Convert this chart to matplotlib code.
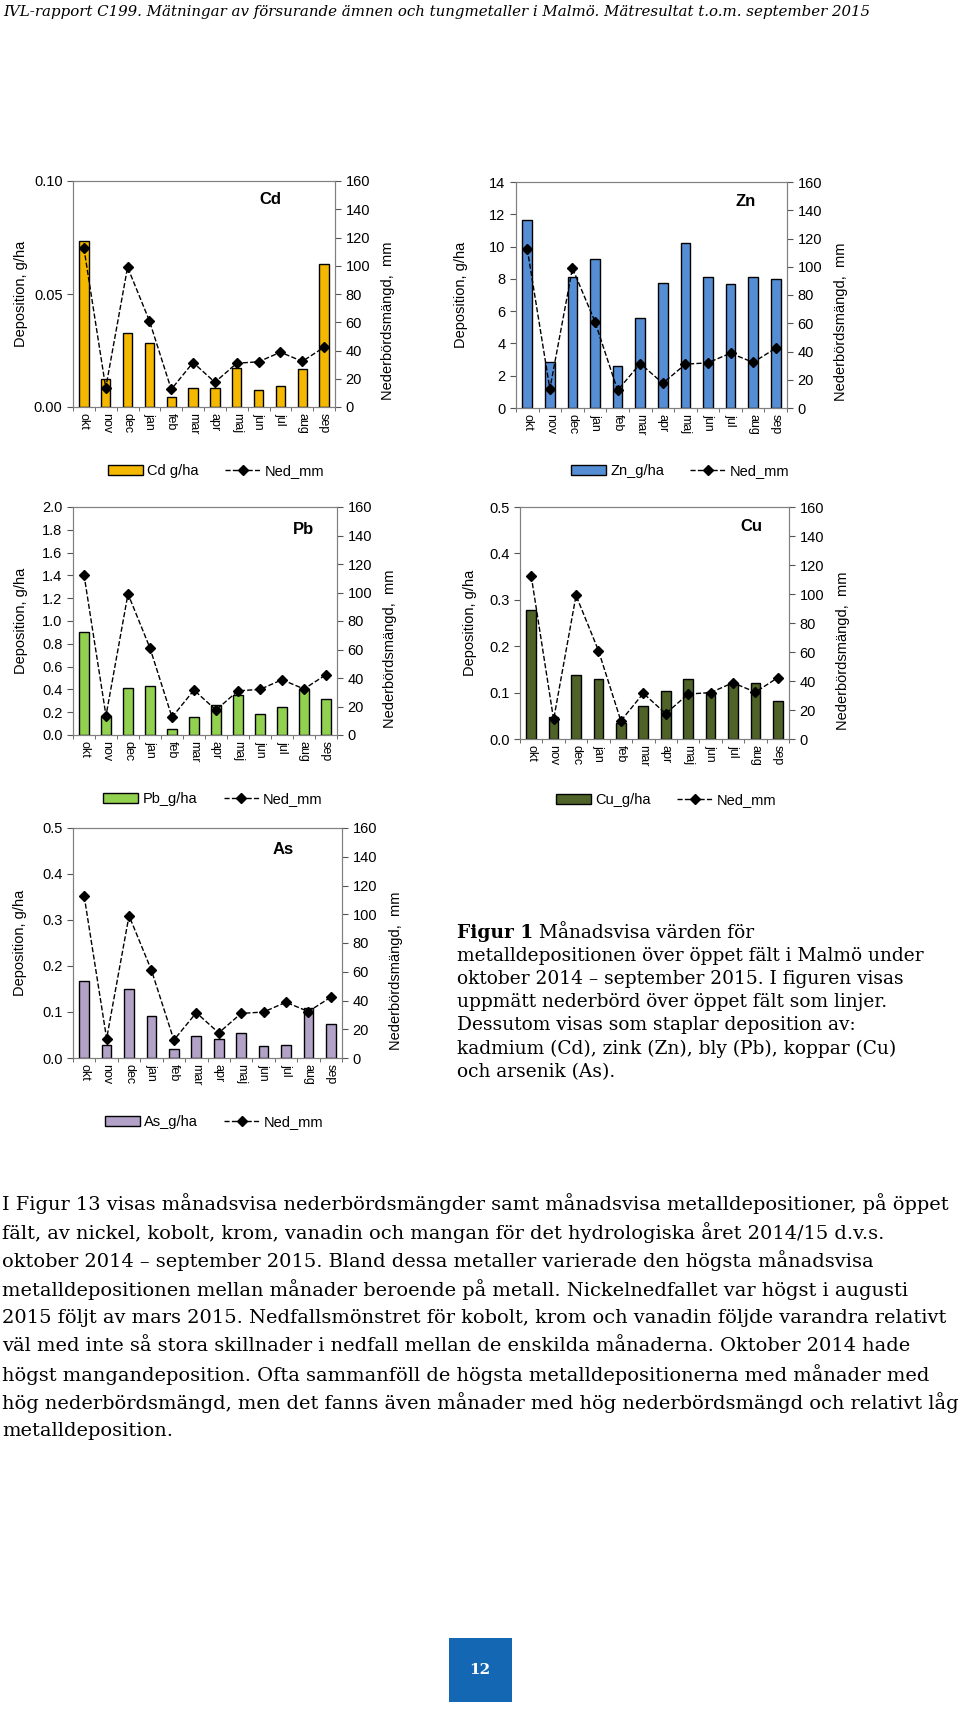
import numpy as np
import matplotlib
matplotlib.use('Agg')
import matplotlib.pyplot as plt
from matplotlib.patches import Rectangle

W, H = 960, 1709

months = ['okt', 'nov', 'dec', 'jan', 'feb', 'mar', 'apr', 'maj', 'jun', 'jul', 'aug', 'sep']
ned_mm = [112.5, 13.5, 99, 61, 12.5, 31.5, 17.5, 31, 32, 38.8, 32.3, 42.3]
cd_gha = [0.0733, 0.0124, 0.0327, 0.0282, 0.0043, 0.0086, 0.0083, 0.0174, 0.0075, 0.0091, 0.0170, 0.0631]
zn_gha = [11.67, 2.85, 8.10, 9.24, 2.58, 5.59, 7.75, 10.25, 8.14, 7.69, 8.14, 8.02]
pb_gha = [0.904, 0.164, 0.415, 0.427, 0.053, 0.155, 0.266, 0.354, 0.181, 0.246, 0.404, 0.313]
cu_gha = [0.277, 0.047, 0.139, 0.129, 0.034, 0.072, 0.104, 0.129, 0.102, 0.120, 0.121, 0.082]
as_gha = [0.168, 0.029, 0.149, 0.091, 0.019, 0.047, 0.041, 0.054, 0.026, 0.028, 0.108, 0.074]

header = ('IVL-rapport C199. Mätningar av försurande ämnen och tungmetaller i Malmö. '
          'Mätresultat t.o.m. september 2015')
caption_bold = 'Figur 1'
caption_lines = [' Månadsvisa värden för',
                 'metalldepositionen över öppet fält i Malmö under',
                 'oktober 2014 – september 2015. I figuren visas',
                 'uppmätt nederbörd över öppet fält som linjer.',
                 'Dessutom visas som staplar deposition av:',
                 'kadmium (Cd), zink (Zn), bly (Pb), koppar (Cu)',
                 'och arsenik (As).']
body_lines = ['I Figur 13 visas månadsvisa nederbördsmängder samt månadsvisa metalldepositioner, på öppet',
              'fält, av nickel, kobolt, krom, vanadin och mangan för det hydrologiska året 2014/15 d.v.s.',
              'oktober 2014 – september 2015. Bland dessa metaller varierade den högsta månadsvisa',
              'metalldepositionen mellan månader beroende på metall. Nickelnedfallet var högst i augusti',
              '2015 följt av mars 2015. Nedfallsmönstret för kobolt, krom och vanadin följde varandra relativt',
              'väl med inte så stora skillnader i nedfall mellan de enskilda månaderna. Oktober 2014 hade',
              'högst mangandeposition. Ofta sammanföll de högsta metalldepositionerna med månader med',
              'hög nederbördsmängd, men det fanns även månader med hög nederbördsmängd och relativt låg',
              'metalldeposition.']

plt.rcParams['font.family'] = ['Liberation Sans', 'DejaVu Sans']

fig = plt.figure(figsize=(W / 100, H / 100), dpi=100)


def box(l, t, r, b):
    return [l / W, 1 - b / H, (r - l) / W, (b - t) / H]


def fx(x):
    return x / W


def fy(y):
    return 1 - y / H


# (values, name, label, color, ymax, ystep, fmt, axes box, title pos, legend center, ylabel x)
panels = [
    (cd_gha, 'Cd', 'Cd g/ha', '#F5B800', 0.10, 0.05, '%.2f', (73, 181, 335, 407), (270, 199), (216, 471), -0.17),
    (zn_gha, 'Zn', 'Zn_g/ha', '#558ED5', 14, 2, '%d', (516, 182, 787, 408), (746, 201), (680, 471), -0.177),
    (pb_gha, 'Pb', 'Pb_g/ha', '#92D050', 2.0, 0.2, '%.1f', (73, 507, 337, 735), (303, 529), (213, 799), -0.17),
    (cu_gha, 'Cu', 'Cu_g/ha', '#4F6228', 0.5, 0.1, '%.1f', (520, 507, 789, 739), (751, 526), (666, 800), -0.16),
    (as_gha, 'As', 'As_g/ha', '#B3A2C7', 0.5, 0.1, '%.1f', (73, 828, 342, 1058), (283, 850), (214, 1122), -0.17),
]

x = np.arange(len(months))
for vals, name, label, color, ymax, ystep, fmt, bx, tpos, lpos, ylx in panels:
    ax = fig.add_axes(box(*bx))
    bars = ax.bar(x, vals, width=0.43, color=color, edgecolor='black', linewidth=1.0, label=label, zorder=2)
    ax.set_xlim(-0.5, len(months) - 0.5)
    ax.set_ylim(0, ymax)
    ax.set_yticks(np.arange(0, ymax + ystep / 2, ystep))
    ax.yaxis.set_major_formatter(matplotlib.ticker.FormatStrFormatter(fmt))
    ax.set_xticks(x)
    ax.set_xticklabels(months, rotation=-90, fontsize=9)
    ax.set_xticks(np.arange(-0.5, len(months), 1), minor=True)
    ax.tick_params(axis='x', which='major', length=0, pad=4)
    ax.tick_params(axis='x', which='minor', length=3, direction='out', color='#555555')
    ax.tick_params(axis='y', labelsize=10.5, length=4, direction='out', color='#555555')
    for sp in ax.spines.values():
        sp.set_color('#808080')
    ax.set_ylabel('Deposition, g/ha', fontsize=10.5)
    ax.yaxis.set_label_coords(ylx, 0.5)

    ax2 = ax.twinx()
    line, = ax2.plot(x, ned_mm, color='black', linestyle='--', linewidth=1.0, marker='D',
                     markersize=5, label='Ned_mm', zorder=3)
    ax2.set_ylim(0, 160)
    ax2.set_yticks(np.arange(0, 161, 20))
    ax2.tick_params(axis='y', labelsize=10.5, length=4, direction='out', color='#555555')
    for sp in ax2.spines.values():
        sp.set_color('#808080')
    ax2.set_ylabel('Nederbördsmängd,  mm', fontsize=10.5)
    ax2.yaxis.set_label_coords(1.175, 0.38)

    fig.text(fx(tpos[0]), fy(tpos[1]), name, fontsize=12, fontweight='bold', ha='center', va='center')

    fig.legend([bars, line], [label, 'Ned_mm'], loc='center', ncol=2, frameon=False,
               bbox_to_anchor=(fx(lpos[0]), fy(lpos[1])), fontsize=10.5,
               handlelength=2.4, columnspacing=1.8, handletextpad=0.3)

# header
fig.text(fx(3), fy(12), header, fontsize=10.8, style='italic', family='DejaVu Serif',
         ha='left', va='center')

# caption
renderer = fig.canvas.get_renderer()
cap_x, cap_y, cap_dy = 457, 933, 23.1
tb = fig.text(fx(cap_x), fy(cap_y), caption_bold, fontsize=13.4, fontweight='bold',
              family='DejaVu Serif', ha='left', va='center')
ext = tb.get_window_extent(renderer)
fig.text(ext.x1 / W, fy(cap_y), caption_lines[0], fontsize=13.4, family='DejaVu Serif',
         ha='left', va='center')
for i, ln in enumerate(caption_lines[1:], start=1):
    fig.text(fx(cap_x), fy(cap_y + i * cap_dy), ln, fontsize=13.4, family='DejaVu Serif',
             ha='left', va='center')

# body paragraph
for i, ln in enumerate(body_lines):
    fig.text(fx(2), fy(1204 + i * 28.4), ln, fontsize=13.95, family='DejaVu Serif',
             ha='left', va='center')

# page number box
fig.patches.append(Rectangle((fx(449), fy(1702)), 63 / W, 64 / H, transform=fig.transFigure,
                             facecolor='#1468B3', edgecolor='none'))
fig.text(fx(480), fy(1670), '12', fontsize=11, fontweight='bold', family='DejaVu Serif',
         color='white', ha='center', va='center')

fig.savefig('out.png', dpi=100)
